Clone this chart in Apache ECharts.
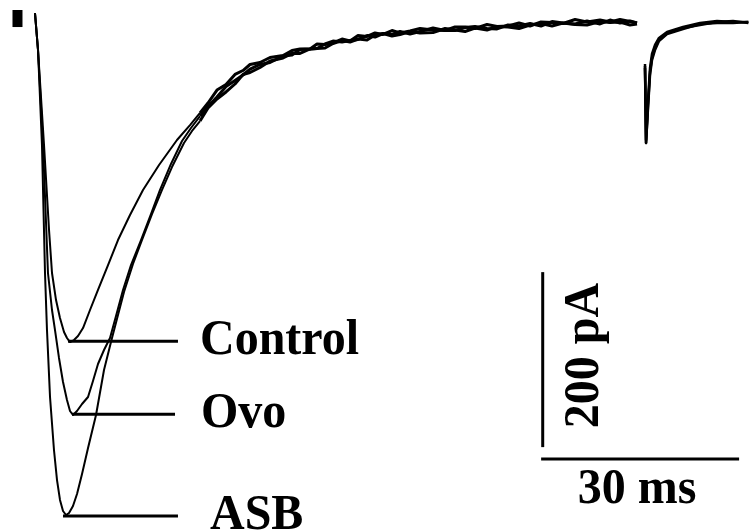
<!DOCTYPE html>
<html>
<head>
<meta charset="utf-8">
<script src="https://cdn.jsdelivr.net/npm/echarts@6/dist/echarts.min.js"></script>
<style>
  html, body { margin: 0; padding: 0; background: #fff; }
  #chart { width: 749px; height: 532px; }
</style>
</head>
<body>
<div id="chart"></div>
<script>
// Synaptic current traces: time in ms, current in pA (inward = negative).

// Fast phase of each trace: [time ms, current pA]
const controlFast = [[0.30, 8.1], [0.76, -34.1], [1.67, -142.7], [2.43, -239.9], [2.88, -289.0], [3.49, -319.9], [4.09, -340.4], [4.70, -356.4], [5.15, -363.3], [5.61, -367.9], [6.21, -365.6], [6.82, -361.0], [7.58, -351.9], [8.64, -331.3], [9.85, -308.4], [11.37, -279.9], [12.88, -251.3], [14.70, -222.7], [16.67, -194.1], [19.10, -165.6], [21.82, -137.0], [23.79, -119.9]];
const ovoFast = [[0.30, 8.1], [0.76, -34.1], [1.52, -142.7], [2.27, -289.0], [2.88, -331.3], [3.33, -354.1], [3.94, -386.1], [4.55, -413.6], [5.15, -434.1], [5.61, -446.7], [6.06, -451.3], [6.67, -446.7], [7.43, -438.7], [8.34, -430.7], [9.09, -412.4], [9.85, -393.0], [10.76, -377.0], [11.67, -363.3], [12.58, -338.1], [13.64, -308.4], [14.85, -279.9], [16.37, -251.3], [17.88, -221.6], [19.25, -194.1], [20.91, -164.4], [22.58, -138.1], [23.94, -123.3]];
const asbFast = [[0.30, 8.1], [0.76, -34.1], [1.36, -142.7], [1.82, -289.0], [2.12, -354.1], [2.58, -430.7], [3.18, -491.3], [3.64, -525.6], [4.09, -548.4], [4.55, -561.0], [5.00, -565.6], [5.46, -563.3], [6.06, -555.3], [6.67, -541.6], [7.43, -518.7], [8.34, -489.0], [9.55, -451.3], [10.76, -399.9], [11.97, -363.3], [12.88, -337.0], [13.79, -310.7], [15.15, -278.7], [16.52, -251.3], [18.03, -221.6], [19.55, -194.1], [21.06, -167.9], [22.88, -140.4], [24.10, -126.7]];

// Slow decay, sampled at shared times
const timeDecay = [25.31, 26.52, 27.88, 29.25, 30.61, 31.82, 32.89, 34.40, 35.92, 37.89, 39.25, 40.46, 41.98, 43.04, 44.25, 45.46, 46.83, 48.04, 49.25, 50.62, 51.83, 53.04, 54.40, 55.62, 57.13, 58.65, 60.62, 62.44, 63.95, 65.47, 66.98, 68.80, 70.32, 71.98, 73.65, 75.32, 76.98, 78.65, 80.32, 82.14, 83.95, 85.92, 87.44, 88.95, 90.47, 91.53];
const controlDecay = [-106.1, -94.7, -79.9, -73.6, -62.1, -57.6, -50.7, -48.4, -42.7, -40.4, -34.7, -33.0, -33.0, -27.3, -27.9, -26.1, -21.6, -23.9, -17.6, -18.7, -14.7, -16.4, -11.9, -14.7, -12.4, -9.6, -11.3, -11.9, -7.9, -7.9, -9.6, -5.0, -7.3, -6.7, -3.3, -6.7, -2.1, -2.7, -3.9, 0.7, -2.1, 0.1, -2.1, 0.7, -1.6, -3.3];
const ovoDecay = [-109.6, -98.7, -87.9, -75.9, -69.0, -62.7, -55.9, -50.7, -48.4, -41.0, -39.9, -33.6, -33.0, -32.4, -27.3, -23.9, -25.0, -23.3, -22.1, -17.6, -19.3, -15.3, -16.4, -13.0, -15.9, -13.0, -9.0, -11.9, -11.9, -8.4, -7.3, -9.6, -10.1, -5.6, -6.7, -3.9, -6.7, -1.6, -3.3, -4.4, -1.0, -4.4, 0.1, -3.3, -1.0, -3.3];
const asbDecay = [-115.3, -100.4, -90.1, -82.1, -73.0, -62.1, -59.9, -54.1, -46.7, -43.3, -38.1, -38.1, -33.0, -32.4, -31.9, -26.7, -23.3, -25.0, -21.6, -22.7, -17.0, -15.3, -18.1, -16.4, -13.0, -14.7, -14.1, -9.6, -11.3, -13.0, -9.0, -11.3, -7.3, -7.9, -9.6, -5.6, -3.9, -6.7, -3.3, -5.0, -5.6, -1.6, -2.7, -2.1, -5.6, -4.4];

// Second (short) response after the gap
const timeSecond = [92.74, 92.90, 93.20, 93.50, 93.80, 94.26, 94.86, 96.08, 98.50, 101.08, 103.65, 106.08, 108.40];
const controlSecond = [-50.1, -137.0, -91.3, -54.7, -38.7, -28.4, -20.4, -13.6, -7.9, -3.3, -1.0, -2.1, -2.1];
const ovoSecond = [-52.4, -140.4, -97.0, -59.3, -43.3, -31.9, -22.7, -14.7, -9.0, -5.6, -2.1, -1.0, -3.3];
const asbSecond = [-54.7, -140.4, -100.4, -62.7, -45.6, -34.1, -23.9, -15.9, -10.1, -4.4, -3.3, -3.3, -2.1];

// Stimulus artifact before the response
const artifact = [[-2.35, 11.6], [-2.35, -7.9]];

// Trace names and their peak markers (leader lines)
const traceNames = ['Control', 'Ovo', 'ASB'];
const peakCurrent = [-367.0, -450.3, -566.7];
const leaderStart = [5.30, 5.91, 4.55];
const leaderEnd = [21.97, 21.52, 21.97];

// Scale bars
const vBar = [[77.24, -288.0], [77.24, -488.0]];   // 200 pA
const hBar = [[77.0, -501.6], [107.0, -501.6]];    // 30 ms
const vBarLabel = '200 pA';
const hBarLabel = '30 ms';

const black = '#000';
function join(times, values) { return times.map((t, i) => [t, values[i]]); }

const traces = [
  { fast: controlFast, decay: controlDecay, second: controlSecond },
  { fast: ovoFast, decay: ovoDecay, second: ovoSecond },
  { fast: asbFast, decay: asbDecay, second: asbSecond }
];

function lineSeries(name, data, width) {
  return {
    name: name, type: 'line', data: data, symbol: 'none', silent: true,
    lineStyle: { color: black, width: width, cap: 'butt', join: 'round' },
    z: 2, animation: false
  };
}

const series = [];
traces.forEach((tr, k) => {
  const decay = join(timeDecay, tr.decay);
  // thin fast phase, heavier noisy slow phase
  series.push(lineSeries(traceNames[k], tr.fast.concat(decay.slice(0, 1)), 2));
  series.push(lineSeries(traceNames[k] + ' decay', decay, 3));
  series.push(lineSeries(traceNames[k] + ' 2', join(timeSecond, tr.second), 2.5));
  series.push(lineSeries(traceNames[k] + ' leader',
    [[leaderStart[k], peakCurrent[k]], [leaderEnd[k], peakCurrent[k]]], 3));
});
series.push(lineSeries('artifact', artifact, 10));
series.push(lineSeries('vbar', vBar, 3));
series.push(lineSeries('hbar', hBar, 3));

const chart = echarts.init(document.getElementById('chart'), null, { renderer: 'canvas' });
chart.setOption({
  backgroundColor: '#fff',
  animation: false,
  grid: { left: 0, right: 0, top: 0, bottom: 0 },
  xAxis: { type: 'value', min: -5, max: 108.5, show: false },
  yAxis: { type: 'value', min: -585, max: 23, show: false },
  series: series
});

// Text labels placed next to the leader lines and scale bars
const font = 'bold 48px "Liberation Serif", "Times New Roman", serif';
const labelGap = [22, 26, 32];
const graphics = traceNames.map((name, k) => {
  const p = chart.convertToPixel({ gridIndex: 0 }, [leaderEnd[k], peakCurrent[k]]);
  return {
    type: 'text', x: p[0] + labelGap[k], y: p[1], scaleY: 1.06, originY: 0,
    style: { text: name, font: font, fill: black, textAlign: 'left', textVerticalAlign: 'middle' }
  };
});
const vMid = chart.convertToPixel({ gridIndex: 0 }, [vBar[0][0], (vBar[0][1] + vBar[1][1]) / 2]);
graphics.push({
  type: 'text', x: vMid[0] + 42, y: vMid[1] - 4, rotation: Math.PI / 2, scaleY: 1.06,
  style: { text: vBarLabel, font: font, fill: black, textAlign: 'center', textVerticalAlign: 'middle' }
});
const hMid = chart.convertToPixel({ gridIndex: 0 }, [(hBar[0][0] + hBar[1][0]) / 2, hBar[0][1]]);
graphics.push({
  type: 'text', x: hMid[0] - 3, y: hMid[1] + 31, scaleY: 1.06,
  style: { text: hBarLabel, font: font, fill: black, textAlign: 'center', textVerticalAlign: 'middle' }
});
chart.setOption({ graphic: graphics });
</script>
</body>
</html>
